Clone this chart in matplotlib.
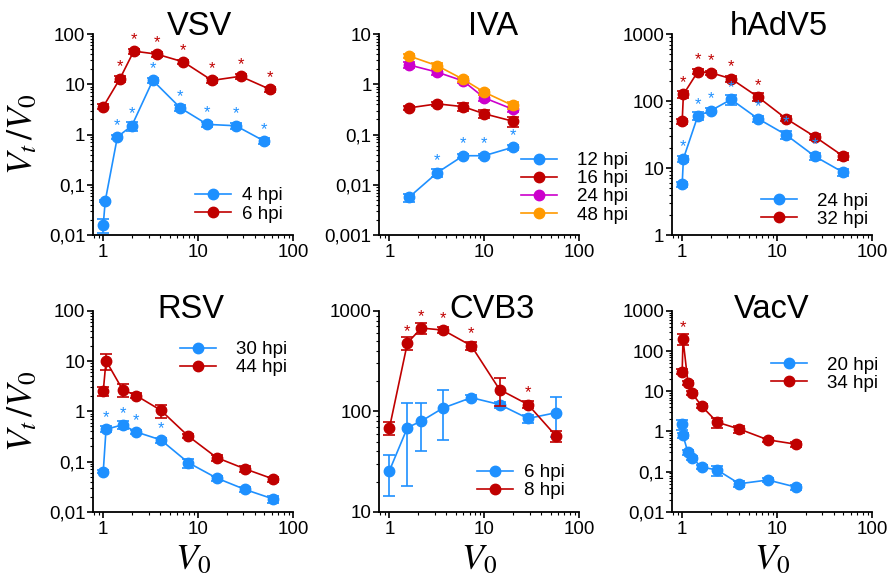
import numpy as np
import matplotlib
matplotlib.use('Agg')
import matplotlib.pyplot as plt
from matplotlib.ticker import FuncFormatter, LogLocator, NullFormatter

plt.rcParams['font.family'] = ['Liberation Sans', 'DejaVu Sans']
plt.rcParams['mathtext.fontset'] = 'stix'

BLUE = '#1E90FF'
RED = '#C00000'
MAGENTA = '#CC00CC'
ORANGE = '#FF9900'

# VSV
vsv_x4 = [1.0, 1.05, 1.41, 2.0, 3.33, 6.5, 12.5, 25, 50]
vsv_y4 = [0.016, 0.048, 0.9, 1.5, 12, 3.4, 1.6, 1.5, 0.74]
vsv_e4 = [0.005, 0.003, 0.1, 0.3, 1.5, 0.4, 0.2, 0.2, 0.1]
vsv_s4 = [0, 0, 1, 1, 1, 1, 1, 1, 1]
vsv_x6 = [1.0, 1.5, 2.1, 3.67, 7.0, 14, 28, 57]
vsv_y6 = [3.6, 13, 46, 40, 28, 12, 14.5, 8]
vsv_e6 = [0.4, 2, 5, 5, 3, 1.5, 1.5, 1]
vsv_s6 = [0, 1, 1, 1, 1, 1, 1, 1]

# IVA
iva_x = [1.6, 3.2, 6.0, 10, 20]
iva_12 = [0.0056, 0.0175, 0.038, 0.038, 0.056]
iva_e12 = [0.001, 0.003, 0.004, 0.004, 0.006]
iva_s12 = [0, 1, 1, 1, 1]
iva_16 = [0.34, 0.41, 0.36, 0.26, 0.185]
iva_e16 = [0.03, 0.04, 0.06, 0.05, 0.04]
iva_24 = [2.45, 1.75, 1.17, 0.54, 0.32]
iva_e24 = [0.3, 0.2, 0.1, 0.08, 0.04]
iva_48 = [3.7, 2.35, 1.26, 0.7, 0.38]
iva_e48 = [0.4, 0.3, 0.15, 0.08, 0.06]

# hAdV5
adv_x = [1.0, 1.03, 1.46, 2.0, 3.28, 6.26, 12.4, 25, 50]
adv_24 = [5.8, 13.8, 60, 72, 106, 55, 31.5, 15, 8.6]
adv_e24 = [0.5, 1.5, 8, 6, 18, 6, 4, 2, 1]
adv_s24 = [0, 1, 1, 1, 1, 1, 1, 1, 0]
adv_32 = [50, 126, 275, 266, 216, 116, 55, 29.5, 15]
adv_e32 = [5, 15, 25, 20, 20, 15, 5, 3, 2]
adv_s32 = [0, 1, 1, 1, 1, 1, 0, 0, 0]

# RSV
rsv_x = [1.0, 1.07, 1.6, 2.22, 4.05, 7.9, 15.7, 31, 62]
rsv_30 = [0.063, 0.44, 0.54, 0.39, 0.27, 0.095, 0.047, 0.028, 0.018]
rsv_e30 = [0.005, 0.06, 0.1, 0.04, 0.03, 0.02, 0.005, 0.003, 0.003]
rsv_s30 = [0, 1, 1, 1, 1, 0, 0, 0, 0]
rsv_44 = [2.5, 10.2, 2.7, 2.07, 1.05, 0.32, 0.12, 0.072, 0.045]
rsv_e44 = [0.5, 3.5, 0.8, 0.2, 0.3, 0.03, 0.015, 0.01, 0.005]

# CVB3
cvb_x = [1.0, 1.55, 2.17, 3.68, 7.3, 14.5, 28.9, 57]
cvb_6 = [25.6, 69, 80, 108, 137, 117, 85, 97]
cvb_e6 = [11.2, 51, 40, 56, 8, 8, 8, 41]
cvb_8 = [68, 480, 675, 645, 450, 165, 117, 57]
cvb_e8 = [10, 70, 90, 40, 40, 52, 10, 7]
cvb_s8 = [0, 1, 1, 1, 1, 0, 1, 0]

# VacV
vac_x = [1.0, 1.02, 1.15, 1.27, 1.6, 2.34, 4.0, 8.0, 16]
vac_20 = [1.5, 0.8, 0.3, 0.22, 0.13, 0.11, 0.05, 0.062, 0.041]
vac_e20 = [0.4, 0.1, 0.04, 0.03, 0.015, 0.03, 0.008, 0.008, 0.006]
vac_34 = [31, 200, 16.5, 9, 4.3, 1.7, 1.15, 0.62, 0.48]
vac_e34 = [4, 60, 2, 1, 0.5, 0.5, 0.25, 0.08, 0.08]
vac_s34 = [0, 1, 0, 0, 0, 0, 0, 0, 0]


def comma(v, pos):
    return ('%g' % v).replace('.', ',')


def series(ax, x, y, err, color, label, stars=None):
    ax.errorbar(x, y, yerr=err, fmt='none', ecolor=color, elinewidth=1.2, capsize=4, capthick=1.2)
    ax.plot(x, y, '-o', color=color, ms=7.5, lw=1.2, label=label)
    if stars:
        for xi, yi, s in zip(x, y, stars):
            if s:
                ax.annotate('*', (xi, yi), xytext=(0, 3), textcoords='offset points',
                            ha='center', va='bottom', color=color, fontsize=12)


def setup(ax, title, ylim, title_x, title_y):
    ax.set_xscale('log')
    ax.set_yscale('log')
    ax.set_xlim(0.78, 100)
    ax.set_ylim(*ylim)
    ax.spines['top'].set_visible(False)
    ax.spines['right'].set_visible(False)
    ax.spines['left'].set_linewidth(1.3)
    ax.spines['bottom'].set_linewidth(1.3)
    # explicit y turns off matplotlib's automatic title placement
    ax.set_title(title, fontsize=23.5, x=title_x, y=title_y, pad=0, va='baseline')
    for axis in (ax.xaxis, ax.yaxis):
        axis.set_major_locator(LogLocator(base=10, numticks=20))
        axis.set_minor_locator(LogLocator(base=10, subs=np.arange(2, 10), numticks=20))
        axis.set_major_formatter(FuncFormatter(comma))
        axis.set_minor_formatter(NullFormatter())
    ax.tick_params(which='major', direction='out', length=4.5, width=1.2, labelsize=13.5)
    ax.tick_params(axis='y', which='major', pad=1)
    ax.tick_params(axis='x', which='major', pad=2)
    ax.tick_params(which='minor', direction='out', length=2.5, width=0.8)


def legend(ax, anchor, pad):
    ax.legend(loc='center left', bbox_to_anchor=anchor, frameon=False, fontsize=13.5,
              borderpad=0, borderaxespad=0, handlelength=1.9, handletextpad=pad,
              labelspacing=0.05)


def ylabel(ax):
    ax.set_ylabel(r'$V_t\,/V_0$', fontsize=26)
    ax.yaxis.set_label_coords(-0.265, 0.5)


def xlabel(ax):
    ax.set_xlabel(r'$V_0$', fontsize=26)
    ax.xaxis.set_label_coords(0.5, -0.15)


fig = plt.figure(figsize=(8.9, 5.79), dpi=100)
top_b, bot_b, h = 0.594, 0.116, 0.347
cols = [0.1045, 0.426, 0.755]
w = 0.2247
top_ty, bot_ty = 0.995, 0.965

ax = fig.add_axes([cols[0], top_b, w, h])
setup(ax, 'VSV', (0.01, 100), 0.53, top_ty)
series(ax, vsv_x4, vsv_y4, vsv_e4, BLUE, '4 hpi', vsv_s4)
series(ax, vsv_x6, vsv_y6, vsv_e6, RED, '6 hpi', vsv_s6)
legend(ax, (0.51, 0.15), 0.6)
ylabel(ax)

ax = fig.add_axes([cols[1], top_b, w, h])
setup(ax, 'IVA', (0.001, 10), 0.57, top_ty)
series(ax, iva_x, iva_12, iva_e12, BLUE, '12 hpi', iva_s12)
series(ax, iva_x, iva_16, iva_e16, RED, '16 hpi')
series(ax, iva_x, iva_24, iva_e24, MAGENTA, '24 hpi')
series(ax, iva_x, iva_48, iva_e48, ORANGE, '48 hpi')
legend(ax, (0.709, 0.235), 1.1)

ax = fig.add_axes([cols[2], top_b, w, h])
setup(ax, 'hAdV5', (1, 1000), 0.535, top_ty)
series(ax, adv_x, adv_24, adv_e24, BLUE, '24 hpi', adv_s24)
series(ax, adv_x, adv_32, adv_e32, RED, '32 hpi', adv_s32)
legend(ax, (0.445, 0.1225), 1.1)

ax = fig.add_axes([cols[0], bot_b, w, h])
setup(ax, 'RSV', (0.01, 100), 0.49, bot_ty)
series(ax, rsv_x, rsv_30, rsv_e30, BLUE, '30 hpi', rsv_s30)
series(ax, rsv_x, rsv_44, rsv_e44, RED, '44 hpi')
legend(ax, (0.435, 0.762), 1.1)
ylabel(ax)
xlabel(ax)

ax = fig.add_axes([cols[1], bot_b, w, h])
setup(ax, 'CVB3', (10, 1000), 0.565, bot_ty)
series(ax, cvb_x, cvb_6, cvb_e6, BLUE, '6 hpi')
series(ax, cvb_x, cvb_8, cvb_e8, RED, '8 hpi', cvb_s8)
legend(ax, (0.49, 0.149), 0.6)
xlabel(ax)

ax = fig.add_axes([cols[2], bot_b, w, h])
setup(ax, 'VacV', (0.01, 1000), 0.5, bot_ty)
series(ax, vac_x, vac_20, vac_e20, BLUE, '20 hpi')
series(ax, vac_x, vac_34, vac_e34, RED, '34 hpi', vac_s34)
legend(ax, (0.495, 0.686), 1.1)
xlabel(ax)

fig.savefig('out.png', dpi=100)
